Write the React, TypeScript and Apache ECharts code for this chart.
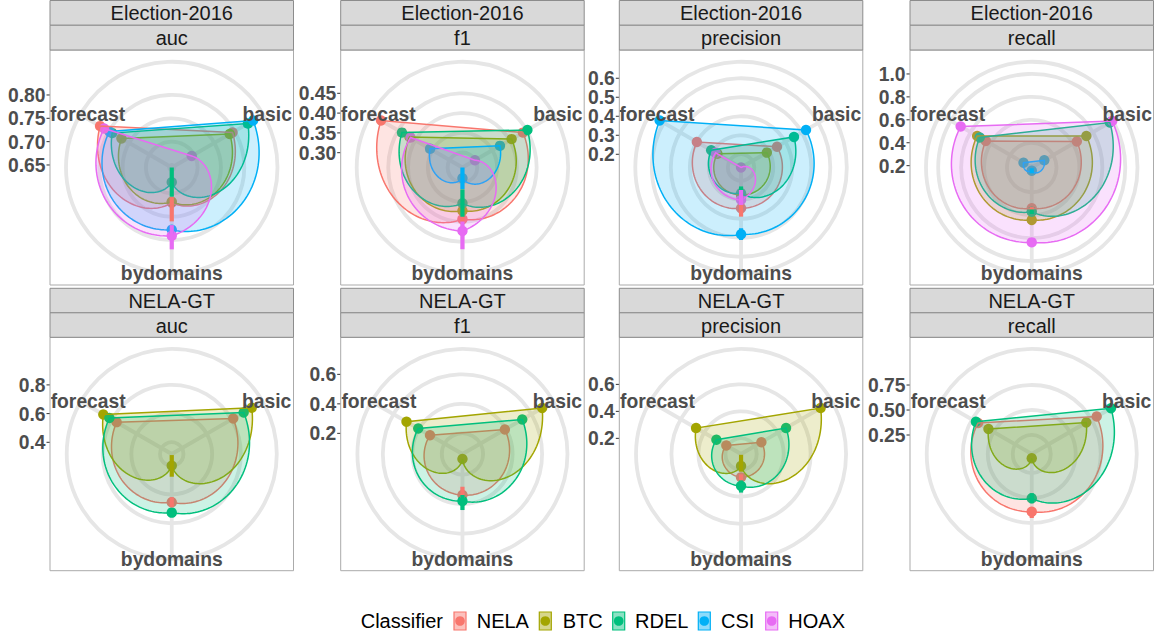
import React, { useEffect, useRef } from 'react';
import * as echarts from 'echarts';

// ---------- data ----------
const classifiers = ['NELA', 'BTC', 'RDEL', 'CSI', 'HOAX'];
const classifierColors = ['#F8766D', '#A3A500', '#00BF7D', '#00B0F6', '#E76BF3'];
const spokes = ['basic', 'bydomains', 'forecast'];
const datasets = ['Election-2016', 'NELA-GT'];
const metrics = ['auc', 'f1', 'precision', 'recall'];

// each row: classifier -> [basic, bydomains, forecast]  (null row = classifier absent)
const electionAuc = [[0.795, 0.720, 0.822], [0.788, 0.718, 0.769], [0.833, 0.676, 0.792], [0.846, 0.778, 0.799], [0.694, 0.791, 0.812]];
const electionF1 = [[0.439, 0.393, 0.500], [0.406, 0.372, 0.417], [0.452, 0.353, 0.439], [0.372, 0.290, 0.357], [0.299, 0.423, 0.414]];
const electionPrecision = [[0.349, 0.345, 0.399], [0.287, 0.275, 0.274], [0.452, 0.266, 0.312], [0.525, 0.482, 0.625], [0.1305, 0.301, 0.285]];
const electionRecall = [[0.638, 0.540, 0.647], [0.734, 0.642, 0.734], [0.970, 0.570, 0.708], [0.310, 0.212, 0.267], [0.995, 0.837, 0.900]];
const nelaAuc = [[0.813, 0.655, 0.762], [0.962, 0.400, 0.869], [0.897, 0.727, 0.820], null, null];
const nelaF1 = [[0.392, 0.338, 0.314], [0.684, 0.094, 0.498], [0.528, 0.379, 0.406], null, null];
const nelaPrecision = [[0.258, 0.257, 0.210], [0.765, 0.173, 0.469], [0.469, 0.321, 0.295], null, null];
const nelaRecall = [[0.810, 0.637, 0.680], [0.690, 0.103, 0.560], [0.975, 0.503, 0.705], null, null];

// error bars on bydomains: [low, high]
const electionAucErr = [[0.708, 0.760], null, [0.6446, 0.707], [0.770, 0.786], [0.768, 0.820]];
const electionF1Err = [[0.385, 0.400], null, [0.318, 0.387], [0.2626, 0.317], [0.399, 0.469]];
const electionPrecisionErr = [[0.319, 0.389], null, [0.230, 0.300], [0.450, 0.512], [0.249, 0.328]];
const electionRecallErr = [[0.530, 0.560], null, [0.550, 0.590], [0.190, 0.235], null];
const nelaAucErr = [[0.620, 0.690], [0.326, 0.477], null, null, null];
const nelaF1Err = [[0.282, 0.360], null, [0.338, 0.440], null, null];
const nelaPrecisionErr = [[0.235, 0.280], [0.090, 0.215], [0.280, 0.370], null, null];
const nelaRecallErr = [[0.590, 0.700], null, [0.453, 0.553], null, null];

// radial scale ranges (value at centre, value at the outer data radius)
const electionAucRange = [0.6446, 0.846];
const electionF1Range = [0.2626, 0.500];
const electionPrecisionRange = [0.1305, 0.625];
const electionRecallRange = [0.184, 1.004];
const nelaAucRange = [0.3185, 0.969];
const nelaF1Range = [0.060, 0.693];
const nelaPrecisionRange = [0.084, 0.776];
const nelaRecallRange = [0.060, 0.994];

// radial tick labels
const electionAucTicks = ['0.65', '0.70', '0.75', '0.80'];
const electionF1Ticks = ['0.30', '0.35', '0.40', '0.45'];
const electionPrecisionTicks = ['0.2', '0.3', '0.4', '0.5', '0.6'];
const electionRecallTicks = ['0.2', '0.4', '0.6', '0.8', '1.0'];
const nelaAucTicks = ['0.4', '0.6', '0.8'];
const nelaF1Ticks = ['0.2', '0.4', '0.6'];
const nelaPrecisionTicks = ['0.2', '0.4', '0.6'];
const nelaRecallTicks = ['0.25', '0.50', '0.75'];

const panelValues = [electionAuc, electionF1, electionPrecision, electionRecall, nelaAuc, nelaF1, nelaPrecision, nelaRecall];
const panelErrors = [electionAucErr, electionF1Err, electionPrecisionErr, electionRecallErr, nelaAucErr, nelaF1Err, nelaPrecisionErr, nelaRecallErr];
const panelRanges = [electionAucRange, electionF1Range, electionPrecisionRange, electionRecallRange, nelaAucRange, nelaF1Range, nelaPrecisionRange, nelaRecallRange];
const panelTicks = [electionAucTicks, electionF1Ticks, electionPrecisionTicks, electionRecallTicks, nelaAucTicks, nelaF1Ticks, nelaPrecisionTicks, nelaRecallTicks];

// ---------- layout ----------
const W = 1155;
const H = 634;
const FONT = '"Liberation Sans", Arial, Helvetica, sans-serif';
const panelLefts = [50, 340.7, 619.3, 910];
const panelW = 243.5;
const rows = [
  { stripTop: 0.5, panelTop: 50, panelBottom: 285 },
  { stripTop: 288.3, panelTop: 337.3, panelBottom: 570.7 },
];
const gridColor = '#E6E6E6';
const axisTextColor = '#4D4D4D';
const axisFont = `bold 19.3px ${FONT}`;

function rgba(hex: string, a: number) {
  const n = parseInt(hex.slice(1), 16);
  return `rgba(${(n >> 16) & 255},${(n >> 8) & 255},${n & 255},${a})`;
}

function buildOption() {
  const polar: any[] = [];
  const angleAxis: any[] = [];
  const radiusAxis: any[] = [];
  const series: any[] = [];
  const graphic: any[] = [];

  for (let p = 0; p < 8; p++) {
    const row = rows[Math.floor(p / 4)];
    const col = p % 4;
    const left = panelLefts[col];
    const ph = row.panelBottom - row.panelTop;
    const cx = left + panelW / 2;
    const cy = (row.panelTop + row.panelBottom) / 2;
    const [r0, r1] = panelRanges[p];
    const rOuter = r0 + (r1 - r0) * 1.125; // ggplot outer ring at 0.45 vs data at 0.4

    polar.push({ center: [cx, cy], radius: [0, 0.45 * ph] });
    angleAxis.push({
      polarIndex: p, type: 'value', min: 0.5, max: 3.5, startAngle: 90, clockwise: true,
      axisLine: { show: false }, axisTick: { show: false }, axisLabel: { show: false },
      splitLine: { show: false }, splitArea: { show: false },
    });
    radiusAxis.push({
      polarIndex: p, type: 'value', min: r0, max: rOuter,
      axisLine: { show: false }, axisTick: { show: false }, axisLabel: { show: false },
      splitLine: { show: false }, splitArea: { show: false },
    });

    const tickVals = panelTicks[p];

    // grid: circles, spokes, radial axis labels
    series.push({
      type: 'custom', coordinateSystem: 'polar', polarIndex: p, z: 1, silent: true,
      data: [[r0, 2]],
      renderItem: (params: any, api: any) => {
        const c = api.coord([r0, 2]);
        const children: any[] = [];
        const radii = tickVals.map((t) => c[1] - api.coord([parseFloat(t), 0.5])[1]);
        radii.push(c[1] - api.coord([rOuter, 0.5])[1]);
        radii.forEach((r) => {
          children.push({ type: 'circle', shape: { cx: c[0], cy: c[1], r: Math.max(r, 0.1) }, style: { fill: 'none', stroke: gridColor, lineWidth: 3.8 } });
        });
        [1, 2, 3].forEach((t) => {
          const e = api.coord([rOuter, t]);
          children.push({ type: 'line', shape: { x1: c[0], y1: c[1], x2: e[0], y2: e[1] }, style: { stroke: gridColor, lineWidth: 3.8 } });
        });
        tickVals.forEach((t) => {
          const y = api.coord([parseFloat(t), 0.5])[1];
          children.push({ type: 'line', shape: { x1: left - 3.5, y1: y, x2: left, y2: y }, style: { stroke: '#333333', lineWidth: 1 } });
          children.push({ type: 'text', x: left - 4.5, y: y + 0.5, style: { text: t, fill: axisTextColor, font: axisFont, align: 'right', verticalAlign: 'middle' } });
        });
        return { type: 'group', children };
      },
    });

    const items: any[] = [];
    const errItems: any[] = [];
    panelValues[p].forEach((v, ci) => {
      if (!v) return;
      items.push([v[0], v[1], v[2], ci]);
      const e = panelErrors[p][ci];
      if (e) errItems.push([e[0], e[1], ci]);
    });

    // points (under polygons)
    series.push({
      type: 'custom', coordinateSystem: 'polar', polarIndex: p, z: 2, silent: true,
      data: items,
      renderItem: (params: any, api: any) => {
        const color = classifierColors[api.value(3)];
        const children = [0, 1, 2].map((k) => {
          const pt = api.coord([api.value(k), k + 1]);
          return { type: 'circle', shape: { cx: pt[0], cy: pt[1], r: 5.2 }, style: { fill: color } };
        });
        return { type: 'group', children };
      },
    });

    // polygons: straight lines in (theta, r) space -> spirals in polar
    series.push({
      type: 'custom', coordinateSystem: 'polar', polarIndex: p, z: 3, silent: true,
      data: items,
      renderItem: (params: any, api: any) => {
        const b = api.value(0), d = api.value(1), f = api.value(2);
        const color = classifierColors[api.value(3)];
        const pts: number[][] = [];
        for (let k = 0; k <= 100; k++) {
          const t = 1 + k * 0.02;
          const r = t <= 2 ? b + (d - b) * (t - 1) : d + (f - d) * (t - 2);
          const q = api.coord([r, t]);
          pts.push([q[0], q[1]]);
        }
        return { type: 'polygon', shape: { points: pts }, style: { fill: rgba(color, 0.2), stroke: color, lineWidth: 1.5 } };
      },
    });

    // error bars on bydomains
    series.push({
      type: 'custom', coordinateSystem: 'polar', polarIndex: p, z: 4, silent: true,
      data: errItems,
      renderItem: (params: any, api: any) => {
        const color = classifierColors[api.value(2)];
        const a = api.coord([api.value(0), 2]);
        const b = api.coord([api.value(1), 2]);
        return { type: 'line', shape: { x1: a[0], y1: a[1], x2: b[0], y2: b[1] }, style: { stroke: color, lineWidth: 4.2 } };
      },
    });

    // spoke labels
    series.push({
      type: 'custom', coordinateSystem: 'polar', polarIndex: p, z: 6, silent: true,
      data: [[rOuter, 1], [rOuter, 2], [rOuter, 3]],
      renderItem: (params: any, api: any) => {
        const t = api.value(1);
        const q = api.coord([rOuter, t]);
        const dx = t === 1 ? 3.9 : t === 3 ? 7.4 : 0;
        return { type: 'text', x: q[0] + dx, y: q[1], style: { text: spokes[t - 1], fill: axisTextColor, font: axisFont, align: 'center', verticalAlign: 'middle' } };
      },
    });

    // panel border & strips
    graphic.push({ type: 'rect', z: 100, silent: true, shape: { x: left, y: row.panelTop, width: panelW, height: ph }, style: { fill: 'none', stroke: '#ABABAB', lineWidth: 1 } });
    const sh = (row.panelTop - row.stripTop) / 2;
    [datasets[Math.floor(p / 4)], metrics[col]].forEach((txt, si) => {
      const y = row.stripTop + si * sh;
      graphic.push({ type: 'rect', z: 100, silent: true, shape: { x: left, y, width: panelW, height: sh }, style: { fill: '#D9D9D9', stroke: '#8C8C8C', lineWidth: 1 } });
      graphic.push({ type: 'text', z: 101, silent: true, x: left + panelW / 2, y: y + sh / 2 + 0.5, style: { text: txt, fill: '#1A1A1A', font: `20px ${FONT}`, align: 'center', verticalAlign: 'middle' } });
    });
  }

  // legend
  const ly = 621;
  graphic.push({ type: 'text', z: 100, x: 360.7, y: ly, style: { text: 'Classifier', fill: '#000000', font: `20px ${FONT}`, align: 'left', verticalAlign: 'middle' } });
  const keyX = [454, 539.3, 612.7, 698.3, 765.7];
  const textX = [476.7, 562.7, 635, 721, 788.3];
  classifiers.forEach((name, i) => {
    const c = classifierColors[i];
    graphic.push({ type: 'rect', z: 100, shape: { x: keyX[i], y: ly - 9, width: 12, height: 18 }, style: { fill: rgba(c, 0.45), stroke: c, lineWidth: 1.2 } });
    graphic.push({ type: 'circle', z: 101, shape: { cx: keyX[i] + 6, cy: ly, r: 4.8 }, style: { fill: c } });
    graphic.push({ type: 'text', z: 100, x: textX[i], y: ly, style: { text: name, fill: '#000000', font: `20px ${FONT}`, align: 'left', verticalAlign: 'middle' } });
  });

  return { animation: false, backgroundColor: '#FFFFFF', polar, angleAxis, radiusAxis, series, graphic };
}

export default function App() {
  const ref = useRef<HTMLDivElement>(null);
  useEffect(() => {
    if (!ref.current) return;
    const chart = echarts.init(ref.current, undefined, { renderer: 'svg', width: W, height: H });
    chart.setOption(buildOption() as any);
    return () => chart.dispose();
  }, []);
  return <div ref={ref} style={{ position: 'fixed', left: 0, top: 0, width: W, height: H, background: '#fff' }} />;
}
